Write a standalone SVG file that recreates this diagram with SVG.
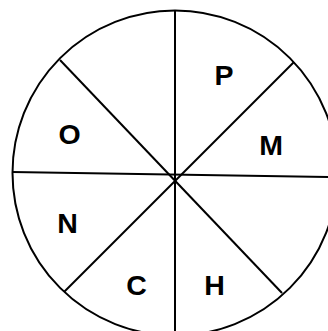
<svg xmlns="http://www.w3.org/2000/svg" width="328" height="331" viewBox="0 0 328 331">
<style>
.ln{stroke:#000;stroke-width:2;fill:none}
.lb{font-family:"Liberation Sans",Arial,sans-serif;font-weight:bold;font-size:28.5px;fill:#000;text-anchor:middle}
</style>
<rect width="328" height="331" fill="#fff"/>
<g id="connectors">
<circle class="ln" cx="175" cy="173" r="162.5"/>
<line class="ln" x1="175" y1="10" x2="175" y2="331"/>
<line class="ln" x1="12" y1="172" x2="328" y2="177"/>
<line class="ln" x1="60" y1="60" x2="282" y2="293"/>
<line class="ln" x1="294" y1="62" x2="64" y2="292"/>
</g>
<g id="P"><text class="lb" x="224" y="85">P</text></g>
<g id="M"><text class="lb" x="271" y="155">M</text></g>
<g id="O"><text class="lb" x="69.5" y="144">O</text></g>
<g id="N"><text class="lb" x="67.5" y="233">N</text></g>
<g id="C"><text class="lb" x="136.5" y="295">C</text></g>
<g id="H"><text class="lb" x="214.5" y="295">H</text></g>
</svg>
